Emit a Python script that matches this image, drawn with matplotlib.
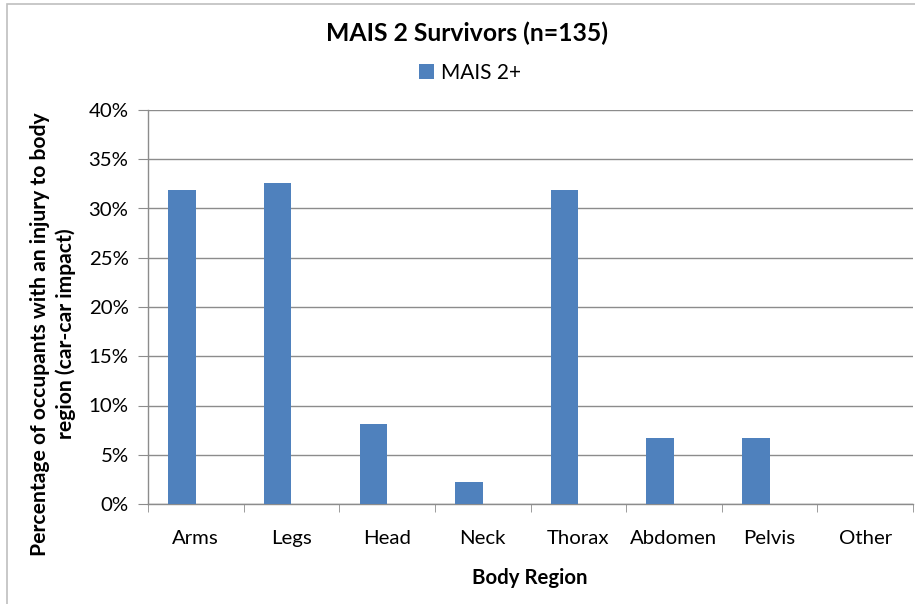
import matplotlib
matplotlib.use("Agg")
import matplotlib.pyplot as plt
from matplotlib.patches import Rectangle
from matplotlib.ticker import FuncFormatter, MultipleLocator

categories = ["Arms", "Legs", "Head", "Neck", "Thorax", "Abdomen", "Pelvis", "Other"]
values = [31.9, 32.6, 8.1, 2.2, 31.9, 6.7, 6.7, 0.0]
series_name = "MAIS 2+"
title = "MAIS 2 Survivors (n=135)"
ylabel = "Percentage of occupants with an injury to body\nregion (car-car impact)"
xlabel = "Body Region"

plt.rcParams['font.family'] = ['Lato', 'DejaVu Sans']

W, H = 915, 604
fig = plt.figure(figsize=(W / 100, H / 100), dpi=100)
ax = fig.add_axes([148 / W, 1 - 504 / H, (913 - 148) / W, (504 - 110) / H])

bar_w = 0.2875
x = list(range(len(categories)))
xb = [i - bar_w / 2 for i in x]
bars = ax.bar(xb, values, width=bar_w, color="#4F81BD", label=series_name, zorder=3)

ax.set_xlim(-0.5, len(categories) - 0.5)
ax.set_ylim(0, 40)
ax.yaxis.set_major_locator(MultipleLocator(5))
ax.yaxis.set_major_formatter(FuncFormatter(lambda v, p: f"{v:.0f}%"))
ax.grid(axis="y", color="#8C8C8C", linewidth=1.0, zorder=0)
ax.set_axisbelow(True)

ax.set_xticks(x)
ax.set_xticklabels(categories, fontsize=14.7)
ax.set_xticks([i - 0.5 for i in range(len(categories) + 1)], minor=True)
ax.tick_params(axis="x", which="major", length=0, pad=19)
ax.tick_params(axis="x", which="minor", length=6, color="#8C8C8C", direction="out")
ax.tick_params(axis="y", labelsize=14.7, length=7, color="#8C8C8C", direction="out", pad=7)

for s in ["top", "right"]:
    ax.spines[s].set_visible(False)
for s in ["left", "bottom"]:
    ax.spines[s].set_color("#8C8C8C")
    ax.spines[s].set_linewidth(1.0)

fig.text(530 / W, 1 - 578 / H, xlabel, ha="center", va="center", fontsize=14.7, fontweight="bold")
fig.text(53 / W, 1 - 334 / H, ylabel, ha="center", va="center", rotation=90, fontsize=15.2,
         fontweight="bold", multialignment="center", linespacing=1.3)

fig.text(467 / W, 1 - 33 / H, title, ha="center", va="center", fontsize=17.8, fontweight="bold")
leg = fig.legend(handles=[bars], labels=[series_name], loc="center", bbox_to_anchor=(470 / W, 1 - 73 / H),
                 frameon=False, fontsize=15, handlelength=0.75, handleheight=0.75, handletextpad=0.35)

fig.patches.append(Rectangle((7 / W, -0.05), 1.1, 1 - 4 / H + 0.05, transform=fig.transFigure,
                             fill=False, edgecolor="#BFBFBF", linewidth=1.2))

fig.savefig("out.png", dpi=100)
